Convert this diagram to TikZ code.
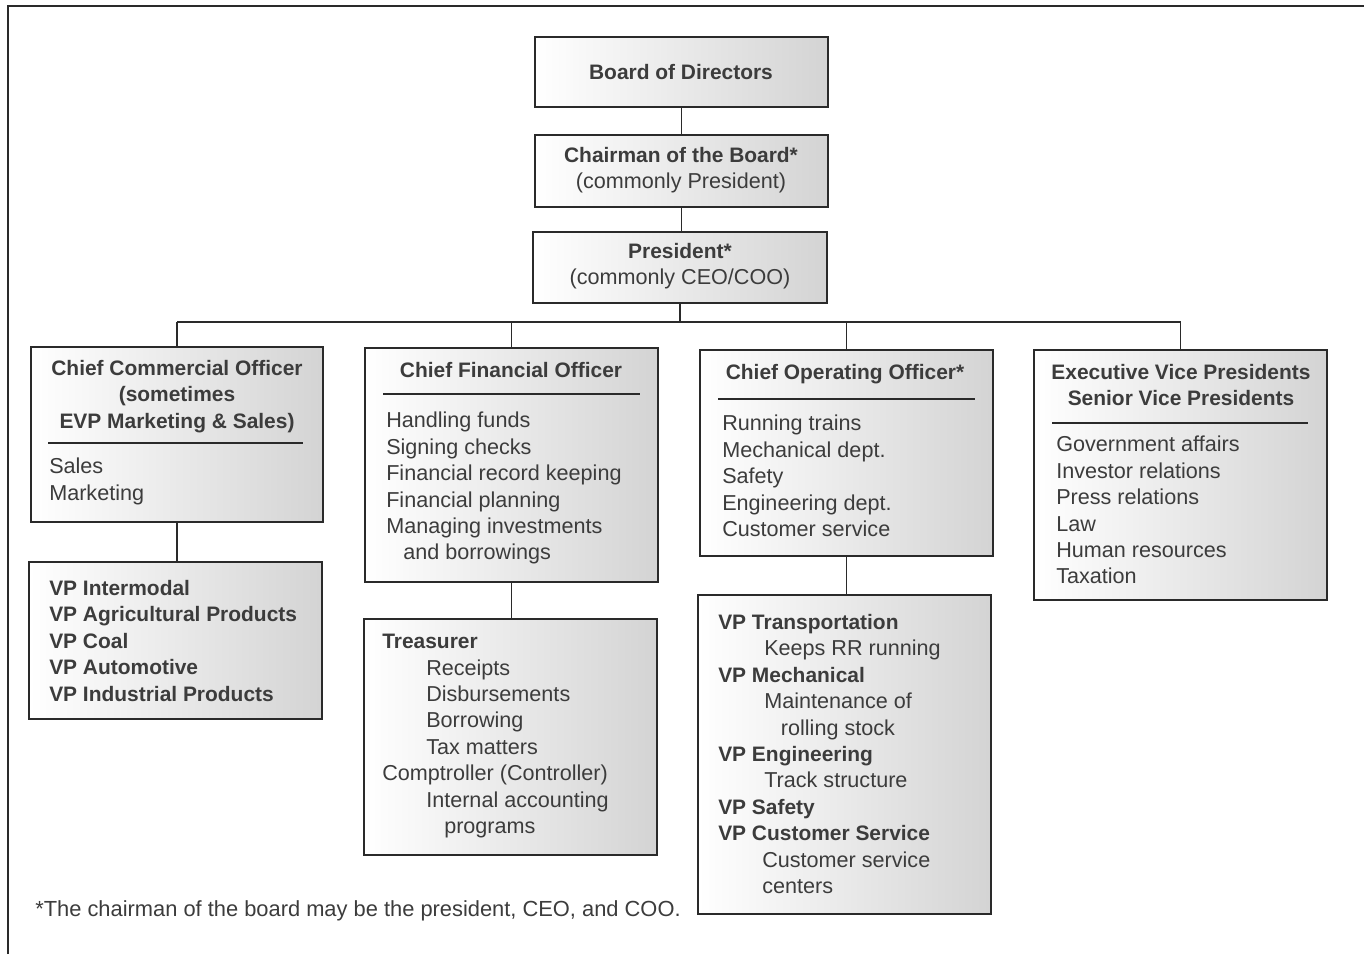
\documentclass[tikz,border=0pt]{standalone}
\usepackage{fontspec}
\setmainfont{Liberation Sans}
\usetikzlibrary{fit,shadows}
\definecolor{ink}{HTML}{3C3C3C}
\definecolor{edge}{HTML}{2A2A2A}
\newcommand\rgf{\fontsize{16.2}{19.8}\selectfont\mdseries}
\newcommand\bdf{\fontsize{15.7}{19.8}\selectfont\bfseries}
\begin{document}
\begin{tikzpicture}[x=0.75pt,y=-0.75pt,
  box/.style={draw=edge, line width=1.2pt, left color=white, right color=black!17, inner sep=0pt,
    drop shadow={shadow xshift=1.1pt, shadow yshift=-1.1pt, fill=black!70, opacity=1}},
  txt/.style={inner sep=0pt, text=ink, align=left, font=\rgf, anchor=north west},
  ttl/.style={inner sep=0pt, text=ink, align=center, font=\bdf},
  wire/.style={draw=edge, line width=1.1pt},
  divider/.style={draw=edge, line width=1.5pt}]
\useasboundingbox (0,0) rectangle (1364,954);
\fill[white] (0,0) rectangle (1364,954);
% frame
\draw[edge, line width=1.8pt] (8,954) -- (8,6) -- (1364,6);

% top chain
\node[box, fit={(535,37) (828,107)}] (board) {};
\node[ttl] (boardT) at (681,72) {Board of Directors};
\node[box, fit={(535,135) (828,207)}] (chair) {};
\node[ttl] (chairT) at (681,170) {Chairman of the Board*\\{\rgf (commonly President)}};
\node[box, fit={(533,232) (827,303)}] (pres) {};
\node[ttl] (presT) at (680,266) {President*\\{\rgf (commonly CEO/COO)}};

\draw[wire] (board.south) -- (chair.north);
\draw[wire] (chair.south) -- (chair.south |- pres.north);

% bus
\coordinate (busL) at (177,322);
\coordinate (busR) at (1181,322);
\draw[wire] (pres.south) -- (pres.south |- busL);
\draw[wire] (busL) -- (busR);

% CCO
\node[box, fit={(31,347) (323,522)}] (cco) {};
\node[ttl, anchor=north] (ccoT) at (177,360) {Chief Commercial Officer\\(sometimes\\EVP Marketing \& Sales)};
\draw[divider] (48,443) -- (303,443);
\node[txt] (ccoI) at (49,458) {Sales\\Marketing};
\node[box, fit={(29,562) (322,719)}] (ccov) {};
\node[txt, font=\bdf] (ccovI) at (49,580) {VP Intermodal\\VP Agricultural Products\\VP Coal\\VP Automotive\\VP Industrial Products};
\draw[wire] (cco.north) -- (cco.north |- busL);
\draw[wire] (cco.south) -- (cco.south |- ccov.north);

% CFO
\node[box, fit={(365,348) (658,582)}] (cfo) {};
\node[ttl, anchor=north] (cfoT) at (511,362) {Chief Financial Officer};
\draw[divider] (383,394) -- (640,394);
\node[txt] (cfoI) at (386,412) {Handling funds\\Signing checks\\Financial record keeping\\Financial planning\\Managing investments\\\hspace*{12.75pt}and borrowings};
\node[box, fit={(364,619) (657,855)}] (treas) {};
\node[txt] (treasI) at (382,634) {{\bdf Treasurer}\\\hspace*{33pt}Receipts\\\hspace*{33pt}Disbursements\\\hspace*{33pt}Borrowing\\\hspace*{33pt}Tax matters\\Comptroller (Controller)\\\hspace*{33pt}Internal accounting\\\hspace*{46.5pt}programs};
\draw[wire] (cfo.north) -- (cfo.north |- busL);
\draw[wire] (cfo.south) -- (cfo.south |- treas.north);

% COO
\node[box, fit={(700,350) (993,556)}] (coo) {};
\node[ttl, anchor=north] (cooT) at (845,364) {Chief Operating Officer*};
\draw[divider] (718,399) -- (975,399);
\node[txt] (cooI) at (722,415) {Running trains\\Mechanical dept.\\Safety\\Engineering dept.\\Customer service};
\node[box, fit={(698,595) (991,914)}] (coov) {};
\node[txt] (coovI) at (718,614) {{\bdf VP Transportation}\\\hspace*{34.5pt}Keeps RR running\\{\bdf VP Mechanical}\\\hspace*{34.5pt}Maintenance of\\\hspace*{47pt}rolling stock\\{\bdf VP Engineering}\\\hspace*{34.5pt}Track structure\\{\bdf VP Safety}\\{\bdf VP Customer Service}\\\hspace*{33pt}Customer service\\\hspace*{33pt}centers};
\draw[wire] (coo.north) -- (coo.north |- busL);
\draw[wire] (coo.south) -- (coo.south |- coov.north);

% EVP
\node[box, fit={(1034,350) (1327,600)}] (evp) {};
\node[ttl, anchor=north] (evpT) at (1181,364) {Executive Vice Presidents\\Senior Vice Presidents};
\draw[divider] (1052,423) -- (1308,423);
\node[txt] (evpI) at (1056,436) {Government affairs\\Investor relations\\Press relations\\Law\\Human resources\\Taxation};
\draw[wire] (evp.north) -- (evp.north |- busL);

% footnote
\node[txt, font=\fontsize{16.4}{19.8}\selectfont] (note) at (35,900) {*The chairman of the board may be the president, CEO, and COO.};
\end{tikzpicture}
\end{document}
